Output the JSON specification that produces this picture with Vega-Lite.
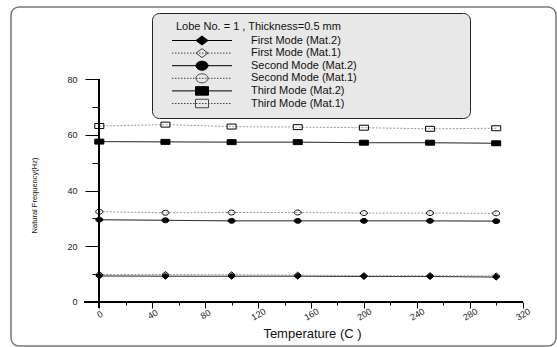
{
  "$schema": "https://vega.github.io/schema/vega-lite/v6.json",
  "width": 545,
  "height": 339,
  "autosize": {"type": "none"},
  "padding": {"left": 11, "top": 7, "right": 1, "bottom": 1},
  "background": "white",
  "config": {
    "view": {"stroke": "#777", "strokeWidth": 1.5, "cornerRadius": 8, "fill": "white"},
    "font": "Liberation Sans",
    "legend": {"symbolOpacity": 1, "symbolStrokeWidth": 1}
  },
  "data": {
    "values": [
      {"series": "First Mode (Mat.2)", "mat": "Mat.2", "temp": 0, "freq": 9.3},
      {"series": "First Mode (Mat.2)", "mat": "Mat.2", "temp": 50, "freq": 9.2},
      {"series": "First Mode (Mat.2)", "mat": "Mat.2", "temp": 100, "freq": 9.2},
      {"series": "First Mode (Mat.2)", "mat": "Mat.2", "temp": 150, "freq": 9.2},
      {"series": "First Mode (Mat.2)", "mat": "Mat.2", "temp": 200, "freq": 9.1},
      {"series": "First Mode (Mat.2)", "mat": "Mat.2", "temp": 250, "freq": 9.1},
      {"series": "First Mode (Mat.2)", "mat": "Mat.2", "temp": 300, "freq": 8.9},
      {"series": "First Mode (Mat.1)", "mat": "Mat.1", "temp": 0, "freq": 9.8},
      {"series": "First Mode (Mat.1)", "mat": "Mat.1", "temp": 50, "freq": 9.8},
      {"series": "First Mode (Mat.1)", "mat": "Mat.1", "temp": 100, "freq": 9.7},
      {"series": "First Mode (Mat.1)", "mat": "Mat.1", "temp": 150, "freq": 9.6},
      {"series": "First Mode (Mat.1)", "mat": "Mat.1", "temp": 200, "freq": 9.4},
      {"series": "First Mode (Mat.1)", "mat": "Mat.1", "temp": 250, "freq": 9.4},
      {"series": "First Mode (Mat.1)", "mat": "Mat.1", "temp": 300, "freq": 9.3},
      {"series": "Second Mode (Mat.2)", "mat": "Mat.2", "temp": 0, "freq": 29.5},
      {"series": "Second Mode (Mat.2)", "mat": "Mat.2", "temp": 50, "freq": 29.3},
      {"series": "Second Mode (Mat.2)", "mat": "Mat.2", "temp": 100, "freq": 29.1},
      {"series": "Second Mode (Mat.2)", "mat": "Mat.2", "temp": 150, "freq": 29.1},
      {"series": "Second Mode (Mat.2)", "mat": "Mat.2", "temp": 200, "freq": 29.1},
      {"series": "Second Mode (Mat.2)", "mat": "Mat.2", "temp": 250, "freq": 29.1},
      {"series": "Second Mode (Mat.2)", "mat": "Mat.2", "temp": 300, "freq": 29.0},
      {"series": "Second Mode (Mat.1)", "mat": "Mat.1", "temp": 0, "freq": 32.4},
      {"series": "Second Mode (Mat.1)", "mat": "Mat.1", "temp": 50, "freq": 32.0},
      {"series": "Second Mode (Mat.1)", "mat": "Mat.1", "temp": 100, "freq": 32.1},
      {"series": "Second Mode (Mat.1)", "mat": "Mat.1", "temp": 150, "freq": 32.1},
      {"series": "Second Mode (Mat.1)", "mat": "Mat.1", "temp": 200, "freq": 31.9},
      {"series": "Second Mode (Mat.1)", "mat": "Mat.1", "temp": 250, "freq": 31.9},
      {"series": "Second Mode (Mat.1)", "mat": "Mat.1", "temp": 300, "freq": 31.8},
      {"series": "Third Mode (Mat.2)", "mat": "Mat.2", "temp": 0, "freq": 57.6},
      {"series": "Third Mode (Mat.2)", "mat": "Mat.2", "temp": 50, "freq": 57.5},
      {"series": "Third Mode (Mat.2)", "mat": "Mat.2", "temp": 100, "freq": 57.4},
      {"series": "Third Mode (Mat.2)", "mat": "Mat.2", "temp": 150, "freq": 57.4},
      {"series": "Third Mode (Mat.2)", "mat": "Mat.2", "temp": 200, "freq": 57.2},
      {"series": "Third Mode (Mat.2)", "mat": "Mat.2", "temp": 250, "freq": 57.2},
      {"series": "Third Mode (Mat.2)", "mat": "Mat.2", "temp": 300, "freq": 57.0},
      {"series": "Third Mode (Mat.1)", "mat": "Mat.1", "temp": 0, "freq": 63.2},
      {"series": "Third Mode (Mat.1)", "mat": "Mat.1", "temp": 50, "freq": 63.7},
      {"series": "Third Mode (Mat.1)", "mat": "Mat.1", "temp": 100, "freq": 63.0},
      {"series": "Third Mode (Mat.1)", "mat": "Mat.1", "temp": 150, "freq": 62.8},
      {"series": "Third Mode (Mat.1)", "mat": "Mat.1", "temp": 200, "freq": 62.6},
      {"series": "Third Mode (Mat.1)", "mat": "Mat.1", "temp": 250, "freq": 62.2},
      {"series": "Third Mode (Mat.1)", "mat": "Mat.1", "temp": 300, "freq": 62.4}
    ]
  },
  "resolve": {"axis": {"x": "independent", "y": "independent"}},
  "layer": [
    {
      "mark": {"type": "line", "strokeWidth": 1},
      "encoding": {
        "x": {
          "field": "temp", "type": "quantitative",
          "scale": {"domain": [-66.74, 345.2], "nice": false, "zero": false},
          "axis": {
            "orient": "bottom", "offset": -44, "values": [0, 40, 80, 120, 160, 200, 240, 280, 320],
            "domain": false, "grid": false, "tickSize": 6, "tickColor": "black",
            "labelAngle": -30, "labelAlign": "center", "labelBaseline": "middle", "labelPadding": 6,
            "labelFont": "Liberation Sans", "labelFontSize": 9, "labelColor": "#222",
            "title": "Temperature (C )", "titleFont": "Liberation Sans", "titleFontSize": 13,
            "titleFontWeight": "normal", "titleColor": "#111",
            "titleX": 301, "titleY": 31, "titleAlign": "center", "titleBaseline": "middle"
          }
        },
        "y": {
          "field": "freq", "type": "quantitative",
          "scale": {"domain": [-15.9, 106], "nice": false, "zero": false},
          "axis": {
            "orient": "left", "offset": -88, "values": [0, 20, 40, 60, 80],
            "domain": false, "grid": false, "tickSize": 14, "tickColor": "black",
            "labelPadding": 8, "labelFont": "Liberation Sans", "labelFontSize": 9, "labelColor": "#222",
            "title": "Natural Frequency(Hz)", "titleFont": "Liberation Sans", "titleFontSize": 7.5,
            "titleFontWeight": "normal", "titleColor": "#111", "titleAngle": -90,
            "titleX": -65, "titleY": 188, "titleAlign": "center", "titleBaseline": "middle"
          }
        },
        "detail": {"field": "series"},
        "color": {
          "field": "mat", "type": "nominal", "legend": null,
          "scale": {"domain": ["Mat.2", "Mat.1"], "range": ["black", "#999"]}
        },
        "strokeDash": {
          "field": "mat", "type": "nominal", "legend": null,
          "scale": {"domain": ["Mat.2", "Mat.1"], "range": [[1, 0], [2, 1.5]]}
        }
      }
    },
    {
      "transform": [{"filter": "indexof(datum.series,'First')==0"}],
      "mark": {"type": "point", "filled": true, "stroke": "black", "strokeWidth": 1, "size": 49, "opacity": 1, "shape": "M0,-0.85L1,0L0,0.85L-1,0Z"},
      "encoding": {
        "x": {
          "field": "temp", "type": "quantitative",
          "scale": {"domain": [-66.74, 345.2], "nice": false, "zero": false},
          "axis": {
            "orient": "bottom", "offset": -44, "values": [20, 60, 100, 140, 180, 220, 260, 300],
            "domain": false, "grid": false, "tickSize": 3, "tickColor": "black", "labels": false, "title": null
          }
        },
        "y": {
          "field": "freq", "type": "quantitative",
          "scale": {"domain": [-15.9, 106], "nice": false, "zero": false},
          "axis": {
            "orient": "left", "offset": -88, "values": [10, 30, 50, 70],
            "domain": false, "grid": false, "tickSize": 7, "tickColor": "black", "labels": false, "title": null
          }
        },
        "fill": {
          "field": "series", "type": "nominal",
          "scale": {
            "domain": ["First Mode (Mat.2)", "First Mode (Mat.1)", "Second Mode (Mat.2)", "Second Mode (Mat.1)", "Third Mode (Mat.2)", "Third Mode (Mat.1)"],
            "range": ["black", "transparent", "black", "transparent", "black", "transparent"]
          }
        }
      }
    },
    {
      "transform": [{"filter": "indexof(datum.series,'Second')==0"}],
      "mark": {"type": "point", "filled": true, "stroke": "black", "strokeWidth": 1, "size": 49, "opacity": 1, "shape": "M-1,0A1,0.7 0 1,0 1,0A1,0.7 0 1,0 -1,0Z"},
      "encoding": {
        "x": {"field": "temp", "type": "quantitative", "scale": {"domain": [-66.74, 345.2], "nice": false, "zero": false}, "axis": null},
        "y": {"field": "freq", "type": "quantitative", "scale": {"domain": [-15.9, 106], "nice": false, "zero": false}, "axis": null},
        "fill": {
          "field": "series", "type": "nominal",
          "scale": {
            "domain": ["First Mode (Mat.2)", "First Mode (Mat.1)", "Second Mode (Mat.2)", "Second Mode (Mat.1)", "Third Mode (Mat.2)", "Third Mode (Mat.1)"],
            "range": ["black", "transparent", "black", "transparent", "black", "transparent"]
          }
        }
      }
    },
    {
      "transform": [{"filter": "indexof(datum.series,'Third')==0"}],
      "mark": {"type": "point", "filled": true, "stroke": "black", "strokeWidth": 1, "size": 49, "opacity": 1, "shape": "M-1.29,-0.71H1.29V0.71H-1.29Z"},
      "encoding": {
        "x": {"field": "temp", "type": "quantitative", "scale": {"domain": [-66.74, 345.2], "nice": false, "zero": false}, "axis": null},
        "y": {"field": "freq", "type": "quantitative", "scale": {"domain": [-15.9, 106], "nice": false, "zero": false}, "axis": null},
        "fill": {
          "field": "series", "type": "nominal",
          "scale": {
            "domain": ["First Mode (Mat.2)", "First Mode (Mat.1)", "Second Mode (Mat.2)", "Second Mode (Mat.1)", "Third Mode (Mat.2)", "Third Mode (Mat.1)"],
            "range": ["black", "transparent", "black", "transparent", "black", "transparent"]
          }
        }
      }
    },
    {
      "mark": {"type": "point", "filled": true, "strokeWidth": 1, "size": 49, "opacity": 0},
      "encoding": {
        "x": {"field": "temp", "type": "quantitative", "scale": {"domain": [-66.74, 345.2], "nice": false, "zero": false}, "axis": null},
        "y": {"field": "freq", "type": "quantitative", "scale": {"domain": [-15.9, 106], "nice": false, "zero": false}, "axis": null},
        "stroke": {
          "field": "series", "type": "nominal",
          "scale": {
            "domain": ["First Mode (Mat.2)", "First Mode (Mat.1)", "Second Mode (Mat.2)", "Second Mode (Mat.1)", "Third Mode (Mat.2)", "Third Mode (Mat.1)"],
            "range": ["black", "#444", "black", "#444", "black", "#444"]
          }
        },
        "shape": {
          "field": "series", "type": "nominal",
          "scale": {
            "domain": ["First Mode (Mat.2)", "First Mode (Mat.1)", "Second Mode (Mat.2)", "Second Mode (Mat.1)", "Third Mode (Mat.2)", "Third Mode (Mat.1)"],
            "range": [
              "M-6,0H6M0,-0.9L1.2,0L0,0.9L-1.2,0Z",
              "M-6,0h0.3M-5.4,0h0.3M-4.8,0h0.3M-4.2,0h0.3M-3.6,0h0.3M-3,0h0.3M-2.4,0h0.3M-1.8,0h0.3M-1.2,0h0.3M-0.6,0h0.3M0,0h0.3M0.6,0h0.3M1.2,0h0.3M1.8,0h0.3M2.4,0h0.3M3,0h0.3M3.6,0h0.3M4.2,0h0.3M4.8,0h0.3M5.4,0h0.3M0,-0.9L1.2,0L0,0.9L-1.2,0Z",
              "M-6,0H6M-1.2,0A1.2,0.9 0 1,0 1.2,0A1.2,0.9 0 1,0 -1.2,0Z",
              "M-6,0h0.3M-5.4,0h0.3M-4.8,0h0.3M-4.2,0h0.3M-3.6,0h0.3M-3,0h0.3M-2.4,0h0.3M-1.8,0h0.3M-1.2,0h0.3M-0.6,0h0.3M0,0h0.3M0.6,0h0.3M1.2,0h0.3M1.8,0h0.3M2.4,0h0.3M3,0h0.3M3.6,0h0.3M4.2,0h0.3M4.8,0h0.3M5.4,0h0.3M-1.2,0A1.2,0.9 0 1,0 1.2,0A1.2,0.9 0 1,0 -1.2,0Z",
              "M-6,0H6M-1.3,-0.85H1.3V0.85H-1.3Z",
              "M-6,0h0.3M-5.4,0h0.3M-4.8,0h0.3M-4.2,0h0.3M-3.6,0h0.3M-3,0h0.3M-2.4,0h0.3M-1.8,0h0.3M-1.2,0h0.3M-0.6,0h0.3M0,0h0.3M0.6,0h0.3M1.2,0h0.3M1.8,0h0.3M2.4,0h0.3M3,0h0.3M3.6,0h0.3M4.2,0h0.3M4.8,0h0.3M5.4,0h0.3M-1.3,-0.85H1.3V0.85H-1.3Z"
            ]
          },
          "legend": {
            "orient": "none", "legendX": 141, "legendY": 6,
            "title": "\u2800\u2800Lobe No. = 1 , Thickness=0.5 mm\u2800\u2800\u2800\u2800\u2800\u2800\u2800\u2800\u2800\u2800\u2800\u2800\u2800\u2800\u2800",
            "titleFont": "Liberation Sans", "titleFontSize": 11, "titleFontWeight": "normal", "titleColor": "#111",
            "titleBaseline": "top", "titlePadding": 3, "titleLimit": 500,
            "labelFont": "Liberation Sans", "labelFontSize": 11, "labelColor": "#111", "labelLimit": 400,
            "padding": 8, "fillColor": "#e8e8e8", "strokeColor": "#222", "cornerRadius": 7,
            "rowPadding": -0.4, "symbolSize": 100, "symbolOffset": 36.5, "labelOffset": 43.5,
            "symbolOpacity": 1, "symbolStrokeWidth": 1
          }
        }
      }
    },
    {
      "mark": {"type": "rule", "color": "black", "strokeWidth": 1},
      "encoding": {
        "x": {"datum": -11, "type": "quantitative", "scale": {"domain": [-66.74, 345.2], "nice": false, "zero": false}, "axis": null},
        "x2": {"datum": 320},
        "y": {"datum": 0, "type": "quantitative", "scale": {"domain": [-15.9, 106], "nice": false, "zero": false}, "axis": null}
      }
    },
    {
      "mark": {"type": "rule", "color": "black", "strokeWidth": 1},
      "encoding": {
        "x": {"datum": 0, "type": "quantitative", "scale": {"domain": [-66.74, 345.2], "nice": false, "zero": false}, "axis": null},
        "y": {"datum": -2.2, "type": "quantitative", "scale": {"domain": [-15.9, 106], "nice": false, "zero": false}, "axis": null},
        "y2": {"datum": 80}
      }
    }
  ]
}
